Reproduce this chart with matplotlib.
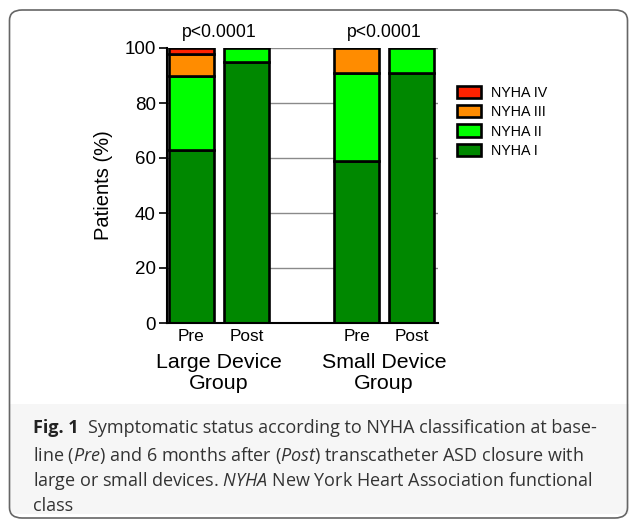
import matplotlib.pyplot as plt
import matplotlib.patches as mpatches
import numpy as np

# data (percent of patients)
groups = ["Large Device\nGroup", "Small Device\nGroup"]
bar_labels = ["Pre", "Post", "Pre", "Post"]
classes = ["NYHA I", "NYHA II", "NYHA III", "NYHA IV"]
nyha1 = [63, 95, 59, 91]
nyha2 = [27, 5, 32, 9]
nyha3 = [8, 0, 9, 0]
nyha4 = [2, 0, 0, 0]
pvals = ["p<0.0001", "p<0.0001"]
colors = ["#008800", "#00ff00", "#ff8c00", "#ff2200"]

plt.rcParams["font.family"] = "Liberation Sans"
plt.rcParams["mathtext.fontset"] = "custom"
plt.rcParams["mathtext.rm"] = "Open Sans"
plt.rcParams["mathtext.it"] = "Open Sans:italic"

W, H = 629, 519
fig = plt.figure(figsize=(W / 100, H / 100), dpi=100)

# outer frame and caption background
fig.patches.append(mpatches.Rectangle((10 / W, 5 / H), 1 - 10 / W, 110 / H,
                                      transform=fig.transFigure, fc="#f6f6f6",
                                      ec="none", zorder=0))
fig.patches.append(mpatches.FancyBboxPatch((9.5 / W, 1 / H), 618 / W, 508 / H,
                                           boxstyle="round,pad=0,rounding_size=0.02",
                                           transform=fig.transFigure, fc="none",
                                           ec="#666666", lw=1.2, zorder=1))

ax = fig.add_axes([167 / W, 1 - 323 / H, (438 - 167) / W, (323 - 48) / H])

x = np.array([0, 1, 3, 4])
w = 0.82

# gridlines behind, blanked out under each pair of bars
for yv in [20, 40, 60, 80, 100]:
    ax.axhline(yv, color="#8a8a8a", lw=1.0, zorder=0)
for g in range(2):
    ax.bar((x[2 * g] + x[2 * g + 1]) / 2, 100, width=1 + w, color="white",
           edgecolor="none", zorder=1)

series = [nyha1, nyha2, nyha3, nyha4]
bottom = np.zeros(4)
for vals, c in zip(series, colors):
    vals = np.array(vals, dtype=float)
    mask = vals > 0
    ax.bar(x[mask], vals[mask], bottom=bottom[mask], width=w, color=c,
           edgecolor="black", linewidth=1.9, zorder=2)
    bottom += vals

ax.set_xlim(-0.445, 4.48)
ax.set_ylim(0, 100)
ax.set_yticks([0, 20, 40, 60, 80, 100])
ax.tick_params(axis="y", labelsize=13.5, length=6, width=1.2, pad=2, direction="out")
ax.set_xticks(x)
ax.set_xticklabels(bar_labels, fontsize=12.4)
ax.tick_params(axis="x", length=0, pad=4)
ax.set_ylabel("Patients (%)", fontsize=14.5, labelpad=8)
for s in ["top", "right"]:
    ax.spines[s].set_visible(False)
ax.spines["left"].set_linewidth(1.5)
ax.spines["bottom"].set_linewidth(1.5)

for g in range(2):
    cx = (x[2 * g] + x[2 * g + 1]) / 2
    ax.text(cx, 102.5, pvals[g], ha="center", va="bottom", fontsize=12.7)
    ax.text(cx, -11.0, groups[g], ha="center", va="top", fontsize=15.4,
            linespacing=1.1)

handles = [mpatches.Patch(facecolor=c, edgecolor="black", lw=1.9, label=l)
           for c, l in zip(colors[::-1], classes[::-1])]
ax.legend(handles=handles, loc="upper left", bbox_to_anchor=(1.018, 0.915),
          frameon=False, handlelength=1.65, handleheight=0.95,
          labelspacing=0.37, handletextpad=0.7, borderaxespad=0.6,
          prop={"family": "Liberation Sans", "size": 10.3})

# caption
cap = dict(fontsize=13, fontname="Open Sans", va="center", color="#333333")
fig.text(33 / W, 1 - 428 / H, "Fig. 1", fontweight="bold",
         **{**cap, "color": "#222222"})
fig.text(88 / W, 1 - 428 / H,
         "Symptomatic status according to NYHA classification at base-", **cap)
fig.text(33 / W, 1 - 455 / H,
         "line ($\\it{Pre}$) and 6 months after ($\\it{Post}$) transcatheter ASD closure with",
         **cap)
fig.text(33 / W, 1 - 481 / H,
         "large or small devices. $\\it{NYHA}$ New York Heart Association functional",
         **cap)
fig.text(33 / W, 1 - 506 / H, "class", **cap)

fig.savefig("out.png", dpi=100)
